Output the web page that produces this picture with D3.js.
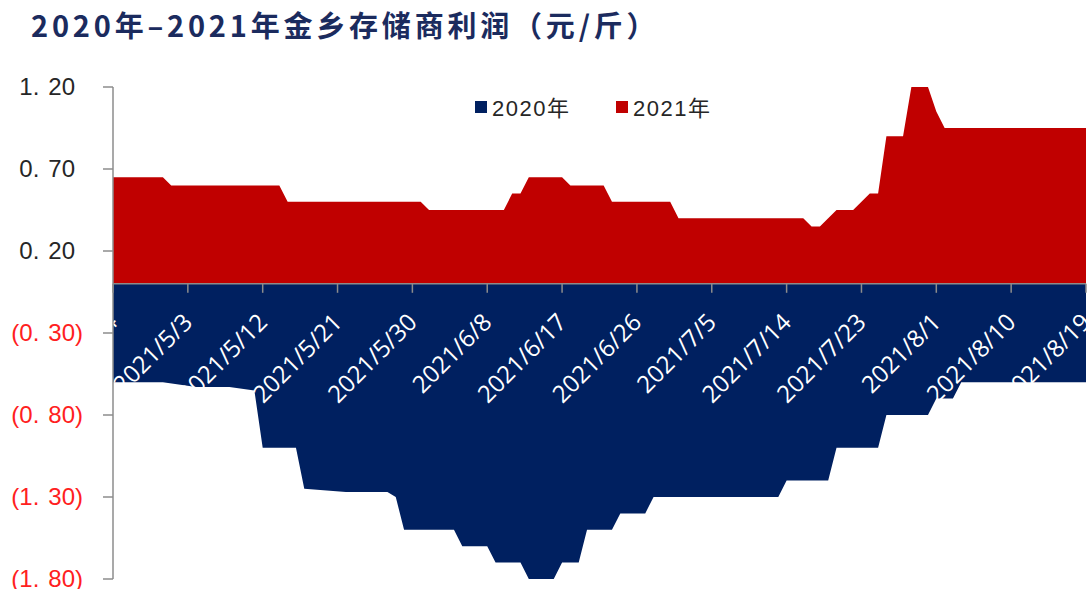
<!DOCTYPE html>
<head>
    <meta charset="UTF-8">
    <script src="https://cdnjs.cloudflare.com/ajax/libs/d3/7.8.5/d3.min.js"></script>
    <style>
        body { margin: 0; background: #fff; }
    </style>
</head>
<body>
    <svg id="chart"></svg>

    <script>
        //********** DATOS *********************

        // 2021 (rojo, positivo): vertices
        var fechas2021 = ["2021/4/24", "2021/4/30", "2021/5/1", "2021/5/14", "2021/5/15", "2021/5/31", "2021/6/1",
            "2021/6/10", "2021/6/11", "2021/6/12", "2021/6/13", "2021/6/17", "2021/6/18", "2021/6/22", "2021/6/23",
            "2021/6/30", "2021/7/1", "2021/7/16", "2021/7/17", "2021/7/18", "2021/7/20", "2021/7/22", "2021/7/24",
            "2021/7/25", "2021/7/26", "2021/7/28", "2021/7/29", "2021/7/31", "2021/8/1", "2021/8/2", "2021/8/19"];
        var valores2021 = [0.65, 0.65, 0.60, 0.60, 0.50, 0.50, 0.45,
            0.45, 0.55, 0.55, 0.65, 0.65, 0.60, 0.60, 0.50,
            0.50, 0.40, 0.40, 0.35, 0.35, 0.45, 0.45, 0.55,
            0.55, 0.90, 0.90, 1.20, 1.20, 1.05, 0.95, 0.95];

        // 2020 (azul, negativo)
        var fechas2020 = ["2021/4/24", "2021/4/30", "2021/5/4", "2021/5/8", "2021/5/11", "2021/5/12", "2021/5/16",
            "2021/5/17", "2021/5/22", "2021/5/27", "2021/5/28", "2021/5/29", "2021/6/4", "2021/6/5", "2021/6/8",
            "2021/6/9", "2021/6/12", "2021/6/13", "2021/6/16", "2021/6/17", "2021/6/19", "2021/6/20", "2021/6/23",
            "2021/6/24", "2021/6/27", "2021/6/28", "2021/7/13", "2021/7/14", "2021/7/19", "2021/7/20", "2021/7/25",
            "2021/7/26", "2021/7/31", "2021/8/1", "2021/8/3", "2021/8/4", "2021/8/19"];
        var valores2020 = [-0.60, -0.60, -0.63, -0.63, -0.65, -1.00, -1.00,
            -1.25, -1.27, -1.27, -1.30, -1.50, -1.50, -1.60, -1.60,
            -1.70, -1.70, -1.80, -1.80, -1.70, -1.70, -1.50, -1.50,
            -1.40, -1.40, -1.30, -1.30, -1.20, -1.20, -1.00, -1.00,
            -0.80, -0.80, -0.70, -0.70, -0.60, -0.60];

        var etiquetasX = ["2021/4/24", "2021/5/3", "2021/5/12", "2021/5/21", "2021/5/30", "2021/6/8", "2021/6/17",
            "2021/6/26", "2021/7/5", "2021/7/14", "2021/7/23", "2021/8/1", "2021/8/10", "2021/8/19"];
        var ticksY = [1.20, 0.70, 0.20, -0.30, -0.80, -1.30, -1.80];
        var series = ["2020年", "2021年"];
        var colores = ["#002060", "#C00000"];

        //********** DEFINICIONES *********************
        var width = 1091, height = 589;
        var parse = d3.timeParse("%Y/%m/%d");

        var svg = d3.select("#chart")
            .attr("width", width)
            .attr("height", height);

        var x = d3.scaleTime()
            .domain([parse("2021/4/24"), parse("2021/8/19")])
            .range([113, 1086]);

        var y = d3.scaleLinear()
            .domain([-1.8, 1.2])
            .range([579, 87]);

        var area = d3.area()
            .x(function (d) { return x(d.fecha); })
            .y0(y(0))
            .y1(function (d) { return y(d.valor); });

        var datos2021 = fechas2021.map(function (f, i) { return { fecha: parse(f), valor: valores2021[i] }; });
        var datos2020 = fechas2020.map(function (f, i) { return { fecha: parse(f), valor: valores2020[i] }; });

        // titulo
        svg.append("text")
            .attr("x", 31)
            .attr("y", 37)
            .style("font-family", "'Noto Sans CJK SC', sans-serif")
            .style("font-weight", "bold")
            .style("font-size", "29px")
            .style("letter-spacing", "3.8px")
            .style("fill", "#1b2b5e")
            .text("2020年–2021年金乡存储商利润（元/斤）");

        // areas
        svg.append("path").datum(datos2020).attr("d", area).style("fill", colores[0]);
        svg.append("path").datum(datos2021).attr("d", area).style("fill", colores[1]);

        // eje x (en cero)
        var ejeX = svg.append("g");
        ejeX.append("line")
            .attr("x1", 113).attr("x2", 1086)
            .attr("y1", y(0)).attr("y2", y(0))
            .style("stroke", "#8c8c8c").style("stroke-width", 1.5);

        ejeX.selectAll(".tick")
            .data(etiquetasX)
            .enter()
            .append("line")
            .attr("x1", function (d) { return x(parse(d)); })
            .attr("x2", function (d) { return x(parse(d)); })
            .attr("y1", y(0))
            .attr("y2", y(0) + 9)
            .style("stroke", "#8c8c8c").style("stroke-width", 1.5);

        ejeX.selectAll(".lab")
            .data(etiquetasX)
            .enter()
            .append("text")
            .attr("transform", function (d) {
                return "translate(" + (x(parse(d)) + 6) + "," + (y(0) + 40) + ") rotate(-45)";
            })
            .attr("text-anchor", "end")
            .style("font-family", "'Open Sans', sans-serif")
            .style("font-size", "24px")
            .style("fill", "#ffffff")
            .text(function (d) { return d; });

        // eje y
        var ejeY = svg.append("g");
        ejeY.append("line")
            .attr("x1", 113).attr("x2", 113)
            .attr("y1", y(1.2)).attr("y2", y(-1.8))
            .style("stroke", "#8c8c8c").style("stroke-width", 1.5);

        ejeY.selectAll(".tick")
            .data(ticksY)
            .enter()
            .append("line")
            .attr("x1", 103).attr("x2", 113)
            .attr("y1", function (d) { return y(d); })
            .attr("y2", function (d) { return y(d); })
            .style("stroke", "#8c8c8c").style("stroke-width", 1.5);

        var labY = ejeY.selectAll(".lab")
            .data(ticksY)
            .enter()
            .append("text")
            .attr("x", function (d) { return d < 0 ? 83 : 75; })
            .attr("y", function (d) { return y(d) + 8; })
            .attr("text-anchor", "end")
            .style("font-family", "'Liberation Sans', Arial, sans-serif")
            .style("font-size", "24px")
            .style("fill", function (d) { return d < 0 ? "#ff2020" : "#262626"; });

        labY.each(function (d) {
            var s = Math.abs(d).toFixed(2).split(".");
            var t = d3.select(this);
            t.append("tspan").text((d < 0 ? "(" : "") + s[0] + ".");
            t.append("tspan").attr("dx", 9).text(s[1] + (d < 0 ? ")" : ""));
        });

        // leyenda
        var leyenda = svg.append("g");
        var posLeyenda = [475, 616];
        series.forEach(function (s, i) {
            leyenda.append("rect")
                .attr("x", posLeyenda[i]).attr("y", 101)
                .attr("width", 12).attr("height", 12)
                .style("fill", colores[i]);
            leyenda.append("text")
                .attr("x", posLeyenda[i] + 17).attr("y", 116)
                .style("font-family", "'Liberation Sans', Arial, 'Noto Sans CJK SC', sans-serif")
                .style("font-size", "22px")
                .style("letter-spacing", "1.5px")
                .style("fill", "#262626")
                .text(s);
        });
    </script>
</body>
